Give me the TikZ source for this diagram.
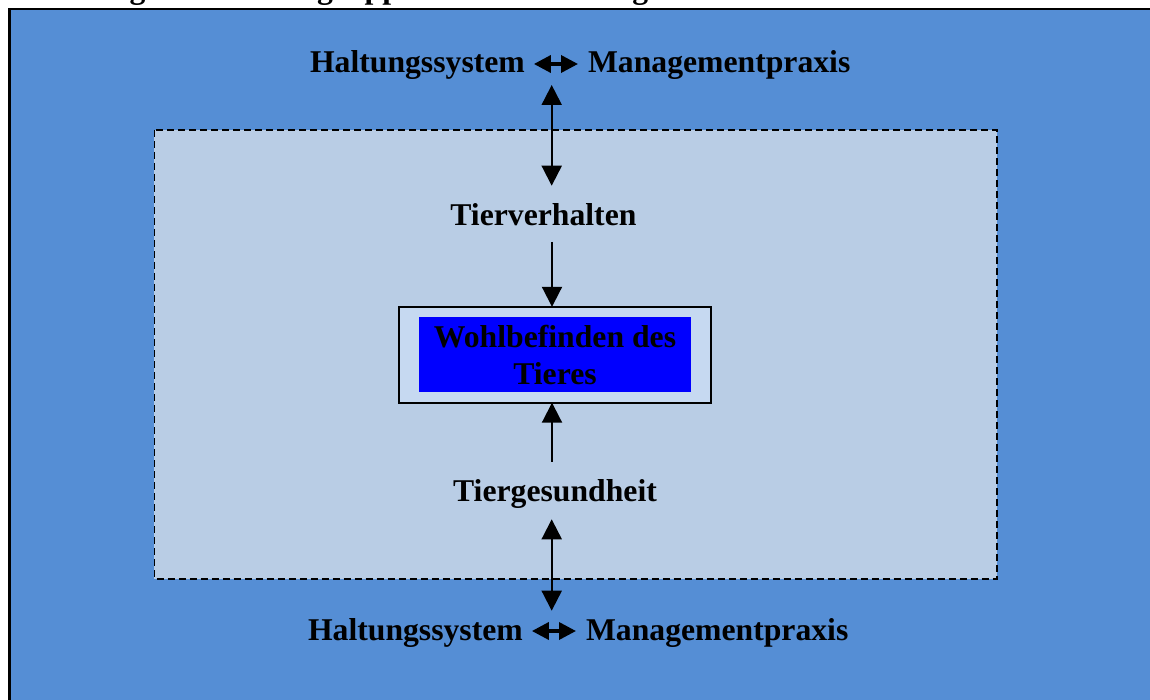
\documentclass[tikz,border=0pt]{standalone}
\usepackage{fontspec}
\setmainfont{Liberation Serif}
\usetikzlibrary{arrows.meta}
\definecolor{outerblue}{HTML}{558ED5}
\definecolor{zonefill}{HTML}{B9CDE5}
\definecolor{boxfill}{HTML}{C6D9F1}
\definecolor{coreblue}{HTML}{0000FF}
\begin{document}
\begin{tikzpicture}[x=1pt,y=-1pt,
  lbl/.style={font=\fontsize{31.7}{36.7}\selectfont\bfseries, inner sep=0pt, outer sep=0pt},
  vert/.style={line width=2pt, {Triangle[length=20pt,width=20pt]}-{Triangle[length=20pt,width=20pt]}},
  vone/.style={line width=2pt, -{Triangle[length=20pt,width=20pt]}},
  dbl/.style={line width=3.5pt, {Triangle[length=17pt,width=17pt]}-{Triangle[length=17pt,width=17pt]}},
  zone/.style={draw=black, line width=1.6pt, dash pattern=on 7pt off 4pt, fill=zonefill}]
\useasboundingbox (0,0) rectangle (1150,700);
\clip (0,0) rectangle (1150,700);
% title (cut off at the top)
\node[lbl, anchor=base west] (title) at (1,-1.5) {Abbildung 1: Kriteriengruppen und Bewertung des Tierwohls};
% outer frame
\draw[line width=2.5pt, fill=outerblue] (9.5,9) rectangle (1175,725);
% dashed zone
\draw[zone] (154.3,130) rectangle (996.7,578.7);
% top label
\node[lbl, anchor=base west] (hs1) at (310,73) {Haltungssystem};
\node[lbl, anchor=base west] (mp1) at (588,73) {Managementpraxis};
\draw[dbl] ([shift={(9,-9)}]hs1.base east) -- ([shift={(-10,-9)}]mp1.base west);
% bottom label
\node[lbl, anchor=base west] (hs2) at (308,640) {Haltungssystem};
\node[lbl, anchor=base west] (mp2) at (586,640) {Managementpraxis};
\draw[dbl] ([shift={(9,-9)}]hs2.base east) -- ([shift={(-10,-9)}]mp2.base west);
% inner labels
\node[lbl, anchor=base] (tv) at (543.4,225.7) {Tierverhalten};
\node[lbl, anchor=base] (tg) at (555,501.7) {Tiergesundheit};
% central box
\node[draw=black, line width=2pt, fill=boxfill, minimum width=311.8pt, minimum height=95.9pt, inner sep=0pt, outer sep=0pt] (wbo) at (555.1,354.75) {};
\node[fill=coreblue, minimum width=272pt, minimum height=75pt, inner sep=0pt] (wbi) at (555,354.2) {};
\node[lbl, anchor=base] (wb1) at (555,347.3) {Wohlbefinden des};
\node[lbl, anchor=base] (wb2) at (555,384) {Tieres};
% vertical connectors
\coordinate (v1a) at (551.7,85);
\coordinate (v1b) at (551.7,185.7);
\draw[vert] (v1a) -- (v1b);
\coordinate (v2a) at (552,242);
\draw[vone] (v2a) -- (v2a |- wbo.north);
\coordinate (v3a) at (552,461.7);
\draw[vone] (v3a) -- (v3a |- wbo.south);
\coordinate (v4a) at (551.7,519.3);
\coordinate (v4b) at (551.7,610.7);
\draw[vert] (v4a) -- (v4b);
\end{tikzpicture}
\end{document}
